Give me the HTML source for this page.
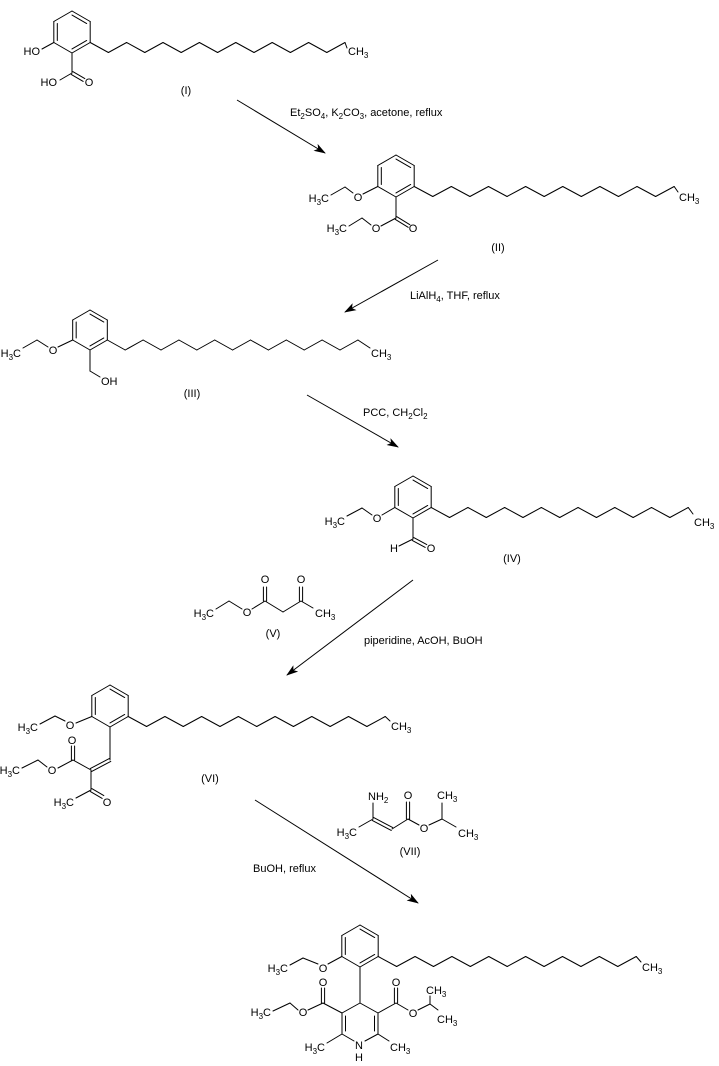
<!DOCTYPE html>
<html><head><meta charset="utf-8"><style>
html,body{margin:0;padding:0;background:#fff;}
svg{display:block;}
text{font-family:"Liberation Sans",Arial,sans-serif;font-size:11px;fill:#000;}
.m{text-anchor:middle}.e{text-anchor:end}
</style></head><body>
<svg id="s" width="719" height="1066" viewBox="0 0 719 1066" xmlns="http://www.w3.org/2000/svg">
<defs><marker id="ah" markerWidth="12" markerHeight="8" refX="11" refY="4" orient="auto" markerUnits="userSpaceOnUse"><path d="M0,0 L12,4 L0,8 L3,4 Z" fill="#000"/></marker></defs>
<g id="g" stroke="#000" stroke-width="1" fill="none" stroke-linecap="round"></g>
<g stroke="#000" stroke-width="1">
<line x1="237" y1="100" x2="325" y2="153" marker-end="url(#ah)"/>
<line x1="438" y1="260" x2="345" y2="312" marker-end="url(#ah)"/>
<line x1="307" y1="395" x2="398" y2="447" marker-end="url(#ah)"/>
<line x1="413" y1="580" x2="287" y2="675" marker-end="url(#ah)"/>
<line x1="255" y1="800" x2="418" y2="903" marker-end="url(#ah)"/>
</g>
<!-- I -->
<text class="e" x="40" y="55">HO</text>
<text class="e" x="57" y="86">HO</text>
<text class="m" x="89" y="86">O</text>
<text x="348" y="55">CH<tspan dy="3" font-size="8">3</tspan></text>
<text class="m" x="186" y="94">(I)</text>
<text x="290" y="116">Et<tspan dy="3" font-size="8">2</tspan><tspan dy="-3">SO</tspan><tspan dy="3" font-size="8">4</tspan><tspan dy="-3">, K</tspan><tspan dy="3" font-size="8">2</tspan><tspan dy="-3">CO</tspan><tspan dy="3" font-size="8">3</tspan><tspan dy="-3">, acetone, reflux</tspan></text>
<!-- II -->
<text class="m" x="358" y="201">O</text>
<text class="e" x="329" y="202">H<tspan dy="3" font-size="8">3</tspan><tspan dy="-3">C</tspan></text>
<text class="m" x="376" y="232">O</text>
<text class="m" x="413" y="232">O</text>
<text class="e" x="347" y="232">H<tspan dy="3" font-size="8">3</tspan><tspan dy="-3">C</tspan></text>
<text x="679" y="201">CH<tspan dy="3" font-size="8">3</tspan></text>
<text class="m" x="498" y="251">(II)</text>
<text x="410" y="299">LiAlH<tspan dy="3" font-size="8">4</tspan><tspan dy="-3">, THF, reflux</tspan></text>
<!-- III -->
<text class="m" x="53" y="354">O</text>
<text class="e" x="21" y="357">H<tspan dy="3" font-size="8">3</tspan><tspan dy="-3">C</tspan></text>
<text x="101" y="385">OH</text>
<text x="371" y="357">CH<tspan dy="3" font-size="8">3</tspan></text>
<text class="m" x="192" y="397">(III)</text>
<text x="363" y="416">PCC, CH<tspan dy="3" font-size="8">2</tspan><tspan dy="-3">Cl</tspan><tspan dy="3" font-size="8">2</tspan></text>
<!-- IV -->
<text class="m" x="377" y="522">O</text>
<text class="e" x="345" y="525">H<tspan dy="3" font-size="8">3</tspan><tspan dy="-3">C</tspan></text>
<text class="m" x="394" y="552">H</text>
<text class="m" x="431" y="552">O</text>
<text x="694" y="526">CH<tspan dy="3" font-size="8">3</tspan></text>
<text class="m" x="512" y="562">(IV)</text>
<!-- V -->
<text class="e" x="214" y="617">H<tspan dy="3" font-size="8">3</tspan><tspan dy="-3">C</tspan></text>
<text class="m" x="247" y="616">O</text>
<text class="m" x="265" y="583">O</text>
<text class="m" x="301" y="583">O</text>
<text x="315" y="617">CH<tspan dy="3" font-size="8">3</tspan></text>
<text class="m" x="273" y="637">(V)</text>
<text x="364" y="644">piperidine, AcOH, BuOH</text>
<!-- VI -->
<text class="m" x="70" y="729">O</text>
<text class="e" x="38" y="731">H<tspan dy="3" font-size="8">3</tspan><tspan dy="-3">C</tspan></text>
<text class="m" x="72" y="744">O</text>
<text class="m" x="52" y="774">O</text>
<text class="e" x="20" y="774">H<tspan dy="3" font-size="8">3</tspan><tspan dy="-3">C</tspan></text>
<text class="m" x="107" y="806">O</text>
<text class="e" x="74" y="806">H<tspan dy="3" font-size="8">3</tspan><tspan dy="-3">C</tspan></text>
<text x="391" y="730">CH<tspan dy="3" font-size="8">3</tspan></text>
<text class="m" x="210" y="782">(VI)</text>
<!-- VII -->
<text x="368" y="800">NH<tspan dy="3" font-size="8">2</tspan></text>
<text class="e" x="357" y="836">H<tspan dy="3" font-size="8">3</tspan><tspan dy="-3">C</tspan></text>
<text class="m" x="408" y="799">O</text>
<text class="m" x="424" y="832">O</text>
<text x="437" y="799">CH<tspan dy="3" font-size="8">3</tspan></text>
<text x="458" y="837">CH<tspan dy="3" font-size="8">3</tspan></text>
<text class="m" x="410" y="855">(VII)</text>
<text x="253" y="872">BuOH, reflux</text>
<!-- final -->
<text class="m" x="323" y="972">O</text>
<text class="e" x="288" y="972">H<tspan dy="3" font-size="8">3</tspan><tspan dy="-3">C</tspan></text>
<text class="m" x="323" y="986">O</text>
<text class="m" x="303" y="1016">O</text>
<text class="e" x="271" y="1016">H<tspan dy="3" font-size="8">3</tspan><tspan dy="-3">C</tspan></text>
<text class="m" x="396" y="986">O</text>
<text class="m" x="413" y="1017">O</text>
<text x="426" y="994">CH<tspan dy="3" font-size="8">3</tspan></text>
<text x="437" y="1023">CH<tspan dy="3" font-size="8">3</tspan></text>
<text class="m" x="359" y="1049">N</text>
<text class="m" x="359" y="1061">H</text>
<text class="e" x="325" y="1051">H<tspan dy="3" font-size="8">3</tspan><tspan dy="-3">C</tspan></text>
<text x="390" y="1051">CH<tspan dy="3" font-size="8">3</tspan></text>
<text x="642" y="971">CH<tspan dy="3" font-size="8">3</tspan></text>
</svg>
<script>
var g=document.getElementById('g'),NS='http://www.w3.org/2000/svg';
function L(a,b,c,d){var l=document.createElementNS(NS,'line');l.setAttribute('x1',a);l.setAttribute('y1',b);l.setAttribute('x2',c);l.setAttribute('y2',d);g.appendChild(l);}
function D(a,b,c,d){var dx=c-a,dy=d-b,n=Math.hypot(dx,dy),px=-dy/n*1.6,py=dx/n*1.6;L(a+px,b+py,c+px,d+py);L(a-px,b-py,c-px,d-py);}
function ring(cx,cy,r){var v=[[cx,cy-r],[cx+.866*r,cy-r/2],[cx+.866*r,cy+r/2],[cx,cy+r],[cx-.866*r,cy+r/2],[cx-.866*r,cy-r/2]];
for(var i=0;i<6;i++){var a=v[i],b=v[(i+1)%6];L(a[0],a[1],b[0],b[1]);}
var f=1-3.5/(.866*r);[[0,1],[2,3],[4,5]].forEach(function(p){var a=v[p[0]],b=v[p[1]];L(cx+(a[0]-cx)*f,cy+(a[1]-cy)*f,cx+(b[0]-cx)*f,cy+(b[1]-cy)*f);});}
function chain(x0,yH,s,ex,ey){var px=x0,py=yH;for(var k=1;k<=14;k++){var x=x0+s*k,y=(k%2)?yH+10:yH;L(px,py,x,y);px=x;py=y;}L(px,py,ex,ey);}
ring(72,32,21);L(53.8,42.5,42,49);L(72,53,72,73);L(72,73,60,80);D(72,73,84,80);chain(90.2,42.5,18.2,347,48);
ring(396,176,21);L(377.8,186.5,363,194);L(353,193,345,187);L(345,187,331,195);L(396,197,396,218);L(396,218,381,226);D(396,218,409,226);L(371,225,362,218);L(362,218,349,226);chain(414.2,186.5,18.57,678,192);
ring(90,330,20);L(72.7,340,58,347);L(48,347,37,340);L(37,340,23,348);L(90,350,90,371);L(90,371,100,377);chain(107.3,340,17.9,370,348);
ring(413,497,21);L(394.8,507.5,382,515);L(372,515,362,508);L(362,508,347,516);L(413,518,413,539);L(413,539,399,546);D(413,539,426,546);chain(431.2,507.5,18.36,693,514);
L(216,609,229,601);L(229,601,242,609);L(252,609,265,601);D(265,601,265,587);L(265,601,283,612);L(283,612,301,601);D(301,601,301,587);L(301,601,313,608);
ring(110,706,21);L(91.8,716.5,76,723);L(65,721,55,716);L(55,716,40,724);L(110,727,110,760);D(110,760,91,770);L(91,770,73,760);D(73,760,73,746);L(73,760,58,768);L(47,767,38,760);L(38,760,22,768);L(91,770,91,790);D(91,790,103,797);L(91,790,76,798);chain(128.2,716.5,18.36,390,721);
L(373,819,373,803);L(373,819,359,827);D(373,819,392,829);L(392,829,408,819);D(408,819,408,802);L(408,819,419,825);L(429,825,442,819);L(442,819,442,803);L(442,819,456,827);
ring(360,946,21);L(341.8,956.5,328,964);L(318,964,303,958);L(303,958,290,965);L(360,967,360,1003);
L(360,1003,342,1013);L(342,1013,342,1034);L(345.5,1016,345.5,1031);L(342,1034,354,1041);L(365,1041,378,1034);L(378,1034,378,1013);L(374.5,1016,374.5,1031);L(378,1013,360,1003);
L(342,1034,327,1043);L(378,1034,389,1041);
L(342,1013,323,1003);D(323,1003,323,988);L(323,1003,308,1010);L(298,1010,290,1003);L(290,1003,273,1011);
L(378,1013,396,1003);D(396,1003,396,988);L(396,1003,408,1010);L(418,1010,430,1004);L(430,1004,430,996);L(430,1004,438,1010);
chain(378.2,956.5,18.43,641,962);
</script>
</body></html>
